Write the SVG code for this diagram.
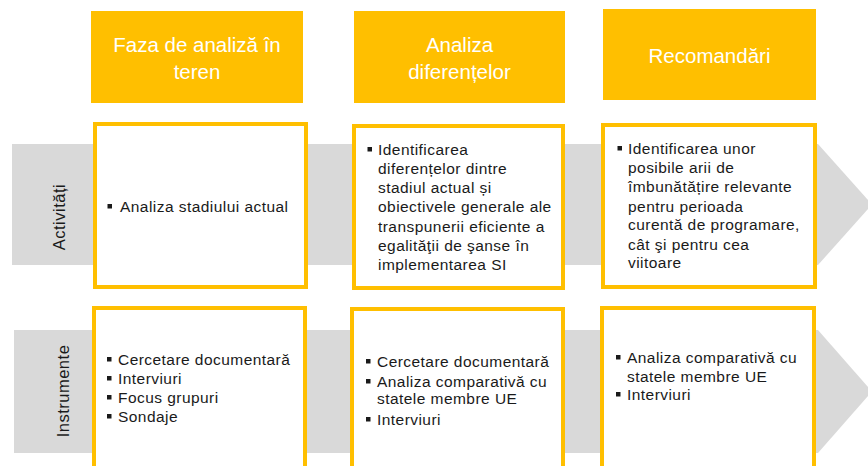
<svg xmlns="http://www.w3.org/2000/svg" width="868" height="466" viewBox="0 0 868 466">
<style>
.band{fill:#d9d9d9}
.hdr{fill:#ffbf00}
.box{fill:#fff;stroke:#ffbf00;stroke-width:4}
.ht{font-family:"Liberation Sans",Arial,sans-serif;font-size:20.5px;fill:#fff;text-anchor:middle}
.bt{font-family:"Liberation Sans",Arial,sans-serif;font-size:15.5px;fill:#1a1a1a;letter-spacing:0.45px}
.lbl{font-family:"Liberation Sans",Arial,sans-serif;font-size:16.5px;fill:#1a1a1a;letter-spacing:0.5px;text-anchor:middle}
.bul{fill:#1a1a1a}
</style>
<g id="connectors">
<polygon class="band" points="12,144 818,144 872,204.5 818,265 12,265"/>
<polygon class="band" points="14,330 818,330 872,391.5 818,453 14,453"/>
</g>
<g id="label-activitati"><text class="lbl" transform="translate(65,217) rotate(-90)">Activități</text></g>
<g id="label-instrumente"><text class="lbl" transform="translate(69,391) rotate(-90)">Instrumente</text></g>
<g id="hdr1"><rect class="hdr" x="91" y="11" width="212" height="92"/>
<text class="ht" x="197" y="52">Faza de analiză în</text><text class="ht" x="197" y="79">teren</text></g>
<g id="hdr2"><rect class="hdr" x="354" y="11" width="211" height="92"/>
<text class="ht" x="459.5" y="52">Analiza</text><text class="ht" x="459.5" y="79">diferențelor</text></g>
<g id="hdr3"><rect class="hdr" x="603" y="9" width="213" height="91"/>
<text class="ht" x="709.5" y="63">Recomandări</text></g>
<g id="act1"><rect class="box" x="95" y="124" width="211" height="163"/>
<rect class="bul" x="107.5" y="204" width="4.5" height="4.5"/>
<text class="bt" x="120" y="212">Analiza stadiului actual</text></g>
<g id="act2"><rect class="box" x="354" y="126" width="209" height="162"/>
<rect class="bul" x="367.5" y="147" width="4.5" height="4.5"/>
<text class="bt" x="378" y="155">Identificarea</text>
<text class="bt" x="378" y="174">diferențelor dintre</text>
<text class="bt" x="378" y="193">stadiul actual și</text>
<text class="bt" x="378" y="212">obiectivele generale ale</text>
<text class="bt" x="378" y="232">transpunerii eficiente a</text>
<text class="bt" x="378" y="251">egalităţii de şanse în</text>
<text class="bt" x="378" y="270">implementarea SI</text></g>
<g id="act3"><rect class="box" x="603" y="125" width="212" height="162"/>
<rect class="bul" x="617.5" y="146" width="4.5" height="4.5"/>
<text class="bt" x="628" y="154">Identificarea unor</text>
<text class="bt" x="628" y="173">posibile arii de</text>
<text class="bt" x="628" y="192">îmbunătățire relevante</text>
<text class="bt" x="628" y="212">pentru perioada</text>
<text class="bt" x="628" y="230">curentă de programare,</text>
<text class="bt" x="628" y="250">cât şi pentru cea</text>
<text class="bt" x="628" y="268">viitoare</text></g>
<g id="ins1"><rect class="box" x="94" y="308" width="211" height="170"/>
<rect class="bul" x="107" y="357" width="4.5" height="4.5"/>
<rect class="bul" x="107" y="376" width="4.5" height="4.5"/>
<rect class="bul" x="107" y="395" width="4.5" height="4.5"/>
<rect class="bul" x="107" y="414" width="4.5" height="4.5"/>
<text class="bt" x="118" y="365">Cercetare documentară</text>
<text class="bt" x="118" y="384">Interviuri</text>
<text class="bt" x="118" y="403">Focus grupuri</text>
<text class="bt" x="118" y="422">Sondaje</text></g>
<g id="ins2"><rect class="box" x="352" y="309" width="211" height="170"/>
<rect class="bul" x="366" y="359" width="4.5" height="4.5"/>
<rect class="bul" x="366" y="379" width="4.5" height="4.5"/>
<rect class="bul" x="366" y="417" width="4.5" height="4.5"/>
<text class="bt" x="377" y="367">Cercetare documentară</text>
<text class="bt" x="377" y="387">Analiza comparativă cu</text>
<text class="bt" x="377" y="404">statele membre UE</text>
<text class="bt" x="377" y="425">Interviuri</text></g>
<g id="ins3"><rect class="box" x="602" y="308" width="212" height="170"/>
<rect class="bul" x="616" y="355" width="4.5" height="4.5"/>
<rect class="bul" x="616" y="392" width="4.5" height="4.5"/>
<text class="bt" x="627" y="363">Analiza comparativă cu</text>
<text class="bt" x="627" y="382">statele membre UE</text>
<text class="bt" x="627" y="400">Interviuri</text></g>
</svg>
